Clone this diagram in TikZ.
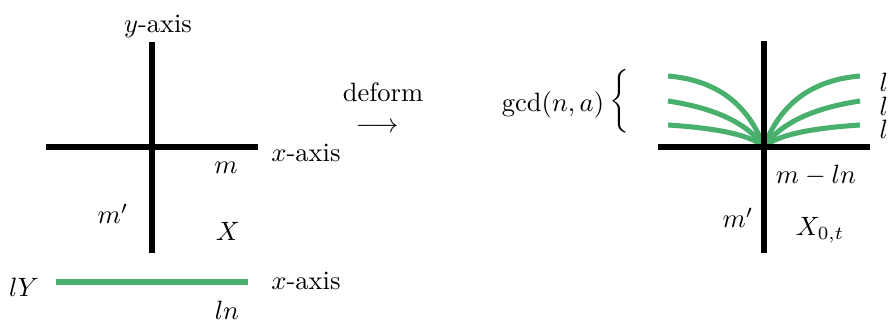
\documentclass[tikz,border=0pt]{standalone}
\usepackage{amsmath}
\definecolor{curvegreen}{RGB}{72,176,108}
\begin{document}
\begin{tikzpicture}[x=0.377pt,y=-0.377pt,
  axis/.style={line width=1.9pt,black},
  gline/.style={line width=1.9pt,curvegreen},
  lbl/.style={inner sep=0pt}]
\useasboundingbox (0,0) rectangle (892,322);
% left picture
\coordinate (ytop) at (152,42); \coordinate (ybot) at (152,253);
\coordinate (xl) at (46,147); \coordinate (xr) at (258,147);
\draw[axis] (ytop) -- (ybot);
\draw[axis] (xl) -- (xr);
\node[lbl] (ylab) at (158,26) {$y$-axis};
\node[lbl] (xlab) at (306,153) {$x$-axis};
\node[lbl] (m) at (226,168) {$m$};
\node[lbl] (mp) at (113,214) {$m'$};
\node[lbl] (X) at (228,231) {$X$};
\coordinate (gl) at (56,282); \coordinate (gr) at (248,282);
\draw[gline] (gl) -- (gr);
\node[lbl] (lY) at (24,287) {$lY$};
\node[lbl] (xlab2) at (306,281) {$x$-axis};
\node[lbl] (ln) at (227,310) {$ln$};
% arrow
\node[lbl] (deform) at (383,92) {deform};
\node[lbl] (arr) at (377,128) {$\longrightarrow$};
% right picture
\coordinate (o) at (764,147);
\coordinate (ytop2) at (764,41); \coordinate (ybot2) at (764,253);
\coordinate (xl2) at (658,147); \coordinate (xr2) at (870,147);
\coordinate (r1) at (860,76); \coordinate (r2) at (860,101); \coordinate (r3) at (860,125);
\coordinate (l1) at (668,76); \coordinate (l2) at (668,101); \coordinate (l3) at (668,125);
\draw[gline] (o) .. controls (780,103.7) and (812,80) .. (r1);
\draw[gline] (o) .. controls (780,123.7) and (812,108.3) .. (r2);
\draw[gline] (o) .. controls (776,135.7) and (808,128.3) .. (r3);
\draw[gline] (o) .. controls (748,103.7) and (716,80) .. (l1);
\draw[gline] (o) .. controls (748,123.7) and (716,108.3) .. (l2);
\draw[gline] (o) .. controls (752,135.7) and (720,128.3) .. (l3);
\draw[axis] (ytop2) -- (ybot2);
\draw[axis] (xl2) -- (xr2);
\node[lbl,anchor=west] (la) at (879,82) {$l$};
\node[lbl,anchor=west] (lb) at (879,106) {$l$};
\node[lbl,anchor=west] (lc) at (879,129) {$l$};
\node[lbl] (gcd) at (553,105) {$\gcd(n,a)$};
\node[lbl] (brace) at (619,101) {$\biggl\{$};
\node[lbl] (mln) at (816,175) {$m-ln$};
\node[lbl] (mp2) at (738,218) {$m'$};
\node[lbl] (X0t) at (820,230) {$X_{0,t}$};
\end{tikzpicture}
\end{document}
